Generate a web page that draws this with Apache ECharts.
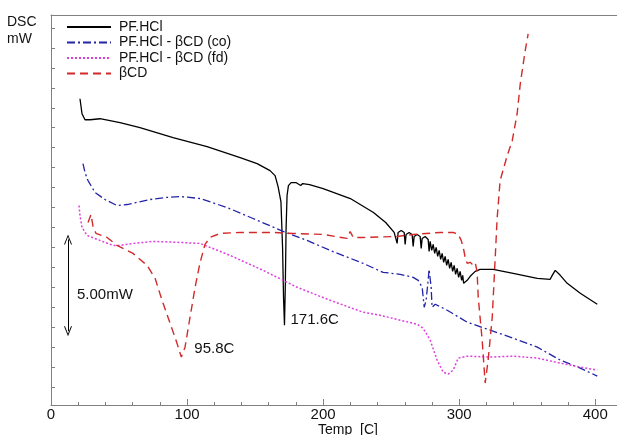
<!DOCTYPE html>
<html>
<head>
<meta charset="utf-8">
<script src="https://cdn.jsdelivr.net/npm/echarts@6/dist/echarts.min.js"></script>
<style>
  html, body { margin: 0; padding: 0; background: #fff; }
  #chart { width: 617px; height: 435px; }
</style>
</head>
<body>
<div id="chart"></div>
<script>
// DSC thermograms, x = temperature (C), y = heat flow (mW, arbitrary offset)
const seriesNames = ["PF.HCl", "PF.HCl - βCD (co)", "PF.HCl - βCD (fd)", "βCD"];

const pfHcl = [
  [21.3, 14.45], [22.8, 13.7], [25.0, 13.4], [28.7, 13.4], [36.0, 13.45], [50.7, 13.25],
  [65.4, 13.0], [89.7, 12.5], [114.7, 12.05], [139.0, 11.5], [151.5, 11.2], [161.0, 10.85],
  [164.7, 10.6], [166.9, 10.05], [169.0, 9.3], [170.2, 7.0], [170.9, 4.5], [171.6, 3.1],
  [172.2, 5.0], [172.8, 8.0], [173.5, 9.6], [174.5, 10.1], [176.5, 10.25], [180.0, 10.25],
  [183.5, 10.1], [185.0, 10.2], [190.0, 10.15], [200.0, 9.95], [220.0, 9.45], [237.0, 8.75],
  [246.0, 8.25], [252.2, 7.75],
  [254.4, 7.2], [255.1, 7.75], [257.4, 7.85], [259.6, 7.75], [260.3, 7.15],
  [261.0, 7.65], [263.2, 7.75], [265.4, 7.65], [266.2, 7.05],
  [266.9, 7.55], [269.1, 7.65], [271.3, 7.55], [272.1, 6.95],
  [272.8, 7.45], [275.0, 7.55], [277.2, 7.4], [277.9, 6.8],
  [278.7, 7.3], [279.8, 6.85], [280.9, 7.15], [282.0, 6.7], [283.1, 7.0], [284.2, 6.55],
  [285.3, 6.85], [286.4, 6.4], [287.5, 6.7], [288.6, 6.25], [289.7, 6.55], [290.8, 6.1],
  [291.9, 6.4], [293.0, 5.95], [294.1, 6.25], [295.2, 5.8], [296.3, 6.1], [297.4, 5.65],
  [298.5, 5.95], [299.6, 5.5], [300.7, 5.8], [301.8, 5.35], [302.6, 5.6], [303.3, 5.2],
  [305.9, 5.35], [308.1, 5.55], [311.8, 5.8], [315.4, 5.9], [325.0, 5.9], [339.7, 5.7],
  [357.4, 5.45], [366.9, 5.4], [368.4, 5.6], [370.6, 5.85], [374.3, 5.6], [379.4, 5.2],
  [389.0, 4.7], [401.5, 4.15]
];

const complexCo = [
  [23.5, 11.2], [25.0, 10.75], [27.2, 10.35], [32.4, 9.75], [39.7, 9.4], [48.5, 9.1],
  [55.9, 9.15], [72.8, 9.4], [83.8, 9.5], [94.9, 9.55], [109.6, 9.45], [129.4, 9.0],
  [148.5, 8.45], [170.6, 7.8], [188.2, 7.35], [205.1, 6.85], [229.4, 6.2], [244.1, 5.75],
  [256.6, 5.65], [266.2, 5.5], [269.9, 5.35], [272.8, 5.0], [274.3, 4.0], [275.7, 4.35],
  [277.2, 5.35], [277.9, 5.9], [279.4, 5.0], [280.1, 4.0], [282.4, 4.15], [291.2, 3.85],
  [305.9, 3.25], [322.8, 2.85], [339.7, 2.45], [357.4, 2.0], [374.3, 1.35], [389.0, 0.95],
  [401.5, 0.55]
];

const complexFd = [
  [20.6, 9.1], [21.3, 8.6], [22.8, 8.0], [26.5, 7.6], [36.0, 7.35], [45.6, 7.1],
  [50.7, 7.1], [60.3, 7.2], [75.0, 7.3], [94.9, 7.25], [109.6, 7.2], [131.6, 6.6],
  [155.9, 5.85], [180.9, 5.0], [205.1, 4.35], [229.4, 3.75], [241.9, 3.6], [256.6, 3.35],
  [269.1, 3.15], [273.5, 2.95], [278.7, 2.35], [283.8, 1.35], [288.2, 0.75], [291.9, 0.65],
  [295.6, 0.85], [299.3, 1.45], [305.9, 1.55], [322.8, 1.5], [339.7, 1.55], [357.4, 1.45],
  [374.3, 1.2], [389.0, 1.0], [401.5, 0.85]
];

const betaCd = [
  [27.2, 8.25], [29.4, 8.65], [30.9, 8.05], [33.1, 7.7], [41.2, 7.5], [48.5, 7.1],
  [60.3, 6.7], [70.6, 6.1], [76.5, 5.45], [81.6, 4.35], [87.5, 3.2], [92.6, 2.2],
  [95.8, 1.5], [98.5, 2.0], [102.2, 3.5], [105.9, 5.0], [109.6, 6.25], [113.2, 7.15],
  [116.9, 7.5], [124.3, 7.7], [139.0, 7.75], [163.2, 7.75], [177.9, 7.7], [200.0, 7.65],
  [217.6, 7.45], [219.9, 7.8], [222.1, 7.5], [229.4, 7.5], [254.4, 7.55], [266.2, 7.65],
  [286.0, 7.75], [295.6, 7.75], [299.3, 7.65], [301.5, 7.35], [303.0, 7.0], [304.4, 6.5],
  [305.9, 6.2], [308.1, 6.25], [309.6, 6.15], [311.8, 6.25], [313.2, 5.75], [314.0, 4.5],
  [316.9, 2.35], [319.1, 0.2], [321.3, 1.35], [324.3, 3.5], [326.5, 6.5], [327.9, 8.45],
  [330.1, 10.35], [335.3, 11.6], [339.0, 12.35], [342.6, 13.7], [344.9, 15.2], [348.5, 16.85],
  [350.7, 17.7]
];

const xTicks = [0, 100, 200, 300, 400];
const yTicks = [0, 1, 2, 3, 4, 5, 6, 7, 8, 9, 10, 11, 12, 13, 14, 15, 16, 17, 18];

// peak annotations and the 5 mW scale bar
const peakPf = { name: "171.6C", coord: [171.6, 3.1] };
const peakCd = { name: "95.8C", coord: [95.8, 1.5] };
const scaleBar = { name: "5.00mW", x: 12.5, top: 7.6, bottom: 2.6, labelY: 4.6 };

const font = "'Liberation Sans', Arial, sans-serif";
const axisGrey = "#808080";
const arrowHead = "path://M4,0L8,10L7,10L4,2.4L1,10L0,10Z";

const chart = echarts.init(document.getElementById("chart"), null, { renderer: "canvas" });

chart.setOption({
  animation: false,
  grid: { left: 51, right: 0, top: 15, bottom: 30, outerBoundsMode: "none", containLabel: false },
  graphic: [
    {
      type: "text", left: 7, top: 14,
      style: { text: "DSC\nmW", font: "14px " + font, fill: "#111", lineHeight: 17 }
    }
  ],
  legend: {
    orient: "vertical", left: 66, top: 20, padding: 0,
    itemWidth: 44, itemHeight: 10, itemGap: 1.5,
    itemStyle: { opacity: 0 },
    textStyle: { fontSize: 14, fontFamily: font, color: "#111", padding: [0, 0, 0, 3] },
    data: seriesNames
  },
  xAxis: [
    {
      type: "value", min: 0, max: 416, interval: 100,
      name: "Temp  [C]", nameLocation: "middle", nameGap: 18, nameMoveOverlap: false,
      nameTextStyle: { fontSize: 14, fontFamily: font, color: "#111", padding: [0, 0, 0, 28] },
      axisLine: { onZero: false, lineStyle: { color: axisGrey } },
      axisTick: { inside: true, length: 6, lineStyle: { color: axisGrey } },
      minorTick: { show: true, splitNumber: 5, length: 3, lineStyle: { color: axisGrey } },
      splitLine: { show: false },
      axisLabel: {
        fontSize: 15, fontFamily: font, color: "#111", margin: 2,
        customValues: xTicks
      }
    },
    {
      type: "value", position: "top", min: 0, max: 416,
      axisLine: { show: true, onZero: false, lineStyle: { color: axisGrey } },
      axisTick: { show: false }, axisLabel: { show: false }, splitLine: { show: false }
    }
  ],
  yAxis: {
    type: "value", min: -0.9, max: 18.65,
    axisLine: { show: true, onZero: false, lineStyle: { color: axisGrey } },
    axisTick: { show: true, inside: true, length: 4, customValues: yTicks, lineStyle: { color: axisGrey } },
    axisLabel: { show: false },
    splitLine: { show: false }
  },
  series: [
    {
      name: seriesNames[0], type: "line", data: pfHcl, symbol: "none",
      lineStyle: { color: "#000", width: 1.3 }, itemStyle: { color: "#000" },
      markPoint: {
        symbol: "circle", symbolSize: 0, silent: true,
        label: { show: true, position: "right", formatter: "{b}", offset: [1, -5], fontSize: 15, fontFamily: font, color: "#111" },
        data: [
          peakPf,
          { name: scaleBar.name, coord: [scaleBar.x, scaleBar.labelY], label: { offset: [4, 0] } }
        ]
      },
      markLine: {
        silent: true, symbol: [arrowHead, arrowHead], symbolSize: [8, 10],
        lineStyle: { color: "#000", width: 1, type: "solid" },
        label: { show: false },
        data: [[{ coord: [scaleBar.x, scaleBar.top - 0.2] }, { coord: [scaleBar.x, scaleBar.bottom + 0.2] }]]
      }
    },
    {
      name: seriesNames[1], type: "line", data: complexCo, symbol: "none",
      lineStyle: { color: "#2323a8", width: 1.3, type: [8, 3, 2, 3] }, itemStyle: { color: "#2323a8" }
    },
    {
      name: seriesNames[2], type: "line", data: complexFd, symbol: "none",
      lineStyle: { color: "#dd3fdd", width: 1.5, type: [2, 2] }, itemStyle: { color: "#dd3fdd" }
    },
    {
      name: seriesNames[3], type: "line", data: betaCd, symbol: "none",
      lineStyle: { color: "#d22a2a", width: 1.4, type: [8, 5] }, itemStyle: { color: "#d22a2a" },
      markPoint: {
        symbol: "circle", symbolSize: 0, silent: true,
        label: { show: true, position: "right", formatter: "{b}", offset: [8, -8], fontSize: 15, fontFamily: font, color: "#111" },
        data: [peakCd]
      }
    }
  ]
});
</script>
</body>
</html>
